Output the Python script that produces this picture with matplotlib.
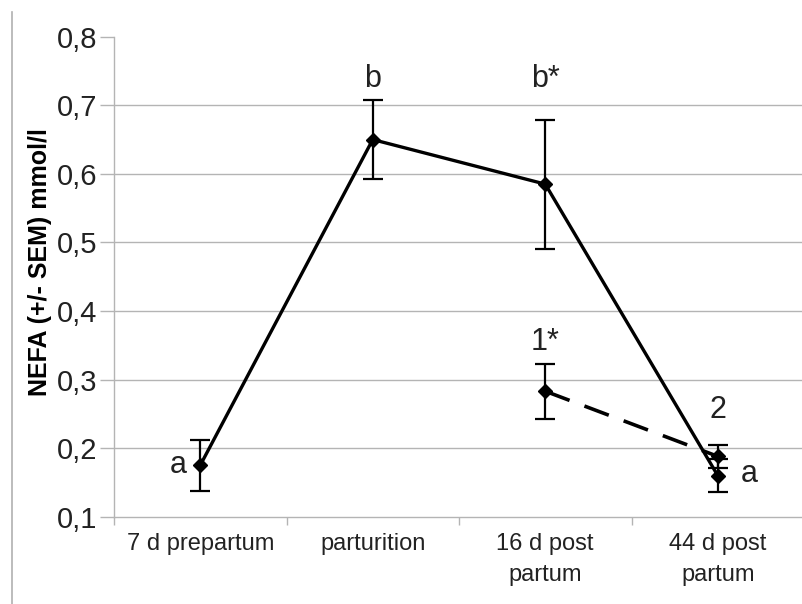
import matplotlib
matplotlib.use("Agg")
import matplotlib.pyplot as plt
from matplotlib.lines import Line2D
import numpy as np

plt.rcParams['font.family'] = ['Liberation Sans', 'DejaVu Sans']

categories = ["7 d prepartum", "parturition", "16 d post\npartum", "44 d post\npartum"]

# group 1 (solid line)
nefa_all = [0.175, 0.650, 0.585, 0.160]
sem_all = [0.037, 0.057, 0.094, 0.024]

# group 2 (dashed line), sampled only after calving
nefa_sub = [np.nan, np.nan, 0.283, 0.188]
sem_sub = [np.nan, np.nan, 0.040, 0.017]

# significance letters: (category index, y, text)
letters = [
    (-0.13, 0.176, "a"),
    (1.0, 0.739, "b"),
    (2.0, 0.739, "b*"),
    (2.0, 0.355, "1*"),
    (3.0, 0.256, "2"),
    (3.18, 0.163, "a"),
]

yticks = [0.1, 0.2, 0.3, 0.4, 0.5, 0.6, 0.7, 0.8]
ytick_labels = ["0,1", "0,2", "0,3", "0,4", "0,5", "0,6", "0,7", "0,8"]

fig = plt.figure(figsize=(8.02, 6.04), dpi=100)
ax = fig.add_axes([114 / 802, 87.3 / 604, 690 / 802, 480 / 604])

x = np.arange(len(categories))
grid_c = "#b4b4b4"

for yv in yticks[1:-1]:
    ax.axhline(yv, color=grid_c, lw=1.0, zorder=0)

ax.errorbar(x, nefa_all, yerr=sem_all, color="black", lw=2.4, marker="D",
            ms=7, capsize=7, elinewidth=1.6, capthick=1.6, zorder=3)
ax.errorbar(x, nefa_sub, yerr=sem_sub, color="black", lw=2.6, marker="D",
            ms=7, capsize=7, elinewidth=1.6, capthick=1.6, zorder=3,
            linestyle=(0, (7.2, 4.4)))

for xi, yi, t in letters:
    ax.text(xi, yi, t, ha="center", va="center", fontsize=22, color="#222222")

ax.set_xlim(-0.5, 3.5)
ax.set_ylim(0.1, 0.8)
ax.set_yticks(yticks)
ax.set_yticklabels(ytick_labels, fontsize=21, color="#222222")
ax.set_xticks(x)
ax.set_xticklabels(categories, fontsize=17, color="#222222", linespacing=1.5)
ax.set_xticks(np.arange(-0.5, 3.6, 1.0), minor=True)
ax.tick_params(axis="x", which="major", length=0, pad=12)
ax.tick_params(axis="x", which="minor", length=6, color=grid_c, width=1.0)
ax.tick_params(axis="y", length=10, color=grid_c, width=1.0, pad=2)

for s in ["top", "right"]:
    ax.spines[s].set_visible(False)
for s in ["left", "bottom"]:
    ax.spines[s].set_color(grid_c)
    ax.spines[s].set_linewidth(1.0)

ax.set_ylabel("NEFA (+/- SEM) mmol/l", fontsize=18, fontweight="bold")
ax.yaxis.set_label_coords(-0.09, 0.53)

# page frame line at the left edge
fig.add_artist(Line2D([12 / 802, 12 / 802], [0, 1 - 12 / 604], transform=fig.transFigure,
                      color="#b0b0b0", lw=1.2))

fig.savefig("out.png", dpi=100)
